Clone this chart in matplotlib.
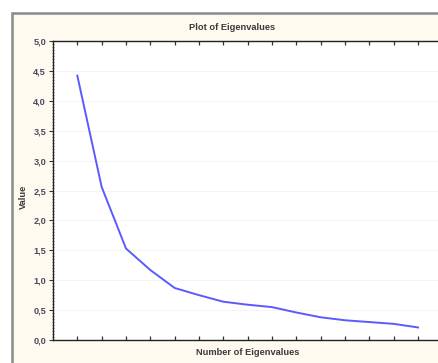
import numpy as np
import matplotlib.pyplot as plt
from matplotlib.patches import Rectangle
from matplotlib.ticker import FuncFormatter, MultipleLocator

# eigenvalues
numbers = list(range(1, 16))
eigenvalues = [4.42, 2.56, 1.53, 1.17, 0.87, 0.75, 0.64, 0.59, 0.55,
               0.46, 0.38, 0.33, 0.30, 0.27, 0.21]

title = "Plot of Eigenvalues"
x_label = "Number of Eigenvalues"
y_label = "Value"

plt.rcParams['font.family'] = ['Liberation Sans', 'DejaVu Sans']

W, H = 439, 363
fig = plt.figure(figsize=(W / 100, H / 100), dpi=100)
fig.patch.set_facecolor('white')

# window frame with cream background
fig.patches.append(Rectangle((12.5 / W, -0.1), 1.2, 1.1 - 12.5 / H,
                             transform=fig.transFigure, facecolor='#fffaef',
                             edgecolor='#8a8a8a', linewidth=1.8, zorder=-10))

ax = fig.add_axes([53 / W, 23 / H, (442.3 - 53) / W, 299 / H])
ax.set_zorder(5)
ax.set_facecolor('white')
ax.plot(numbers, eigenvalues, color='#5a5aff', linewidth=1.4)

ax.set_xlim(0, 16)
ax.set_ylim(0, 5)
ax.set_xticks(numbers)
ax.xaxis.set_major_formatter(FuncFormatter(lambda v, p: ''))
ax.yaxis.set_major_locator(MultipleLocator(0.5))
ax.yaxis.set_minor_locator(MultipleLocator(0.05))
ax.yaxis.set_major_formatter(FuncFormatter(lambda v, p: f"{v:.1f}".replace('.', ',')))

ax.tick_params(axis='x', which='major', direction='in', length=3, width=0.9,
               top=True, color='#333333')
ax.tick_params(axis='y', which='major', direction='out', length=3, width=0.8,
               labelsize=6.6, labelcolor='#4a4a5e', pad=2, color='#333333')
ax.tick_params(axis='y', which='minor', direction='inout', length=2, width=0.5,
               color='#555555')
for lbl in ax.get_yticklabels():
    lbl.set_fontweight('bold')

ax.grid(axis='y', which='major', color='#f3f3f3', linewidth=0.6)
ax.set_axisbelow(True)
for s in ax.spines.values():
    s.set_color('#222222')
    s.set_linewidth(1.0)

fig.text(232 / W, 1 - 28 / H, title, ha='center', va='center', fontsize=6.7,
         color='#3a3a3a', fontweight='bold')
fig.text(248 / W, 1 - 352.5 / H, x_label, ha='center', va='center', fontsize=6.7,
         color='#3a3a3a', fontweight='bold')
fig.text(23 / W, 1 - 197 / H, y_label, ha='center', va='center', fontsize=6.7,
         color='#3a3a3a', fontweight='bold', rotation=90)

fig.savefig('out.png', dpi=100)
